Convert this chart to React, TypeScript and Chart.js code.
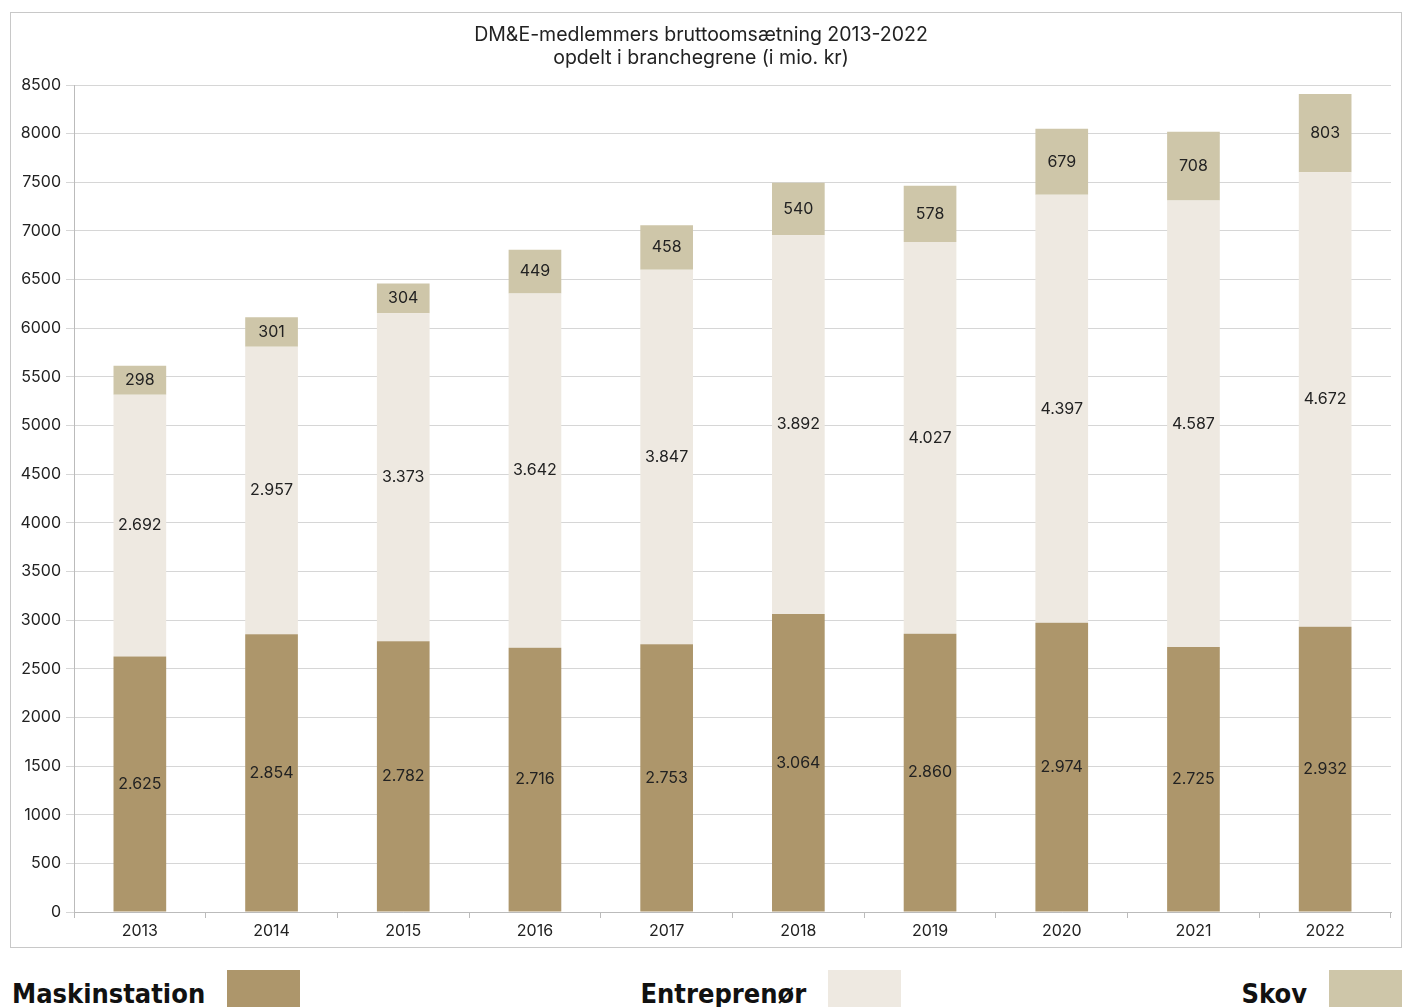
import React, { useEffect, useRef } from "react";
import { Chart, registerables } from "chart.js";

Chart.register(...registerables);

const years = ["2013", "2014", "2015", "2016", "2017", "2018", "2019", "2020", "2021", "2022"];
const maskinstation = [2625, 2854, 2782, 2716, 2753, 3064, 2860, 2974, 2725, 2932];
const entreprenor = [2692, 2957, 3373, 3642, 3847, 3892, 4027, 4397, 4587, 4672];
const skov = [298, 301, 304, 449, 458, 540, 578, 679, 708, 803];
const titleLines = ["DM&E-medlemmers bruttoomsætning 2013-2022", "opdelt i branchegrene (i mio. kr)"];
const seriesNames = ["Maskinstation", "Entreprenør", "Skov"];
const seriesColors = ["#ad966b", "#eee9e1", "#cec6a9"];

const FONT = "Inter, 'Noto Sans', sans-serif";
const fmt = (v: number) => String(v).replace(/\B(?=(\d{3})+(?!\d))/g, ".");

const labelPlugin = {
  id: "segLabels",
  afterDatasetsDraw(chart: any) {
    const ctx = chart.ctx;
    ctx.save();
    ctx.font = `16px ${FONT}`;
    ctx.fillStyle = "#222";
    ctx.textAlign = "center";
    ctx.textBaseline = "middle";
    chart.data.datasets.forEach((ds: any, i: number) => {
      const meta = chart.getDatasetMeta(i);
      meta.data.forEach((el: any, j: number) => {
        const y = (el.y + el.base) / 2;
        ctx.fillText(fmt(ds.data[j]), el.x, y);
      });
    });
    ctx.restore();
  },
};

export default function App() {
  const ref = useRef<HTMLCanvasElement>(null);
  useEffect(() => {
    document.body.style.margin = "0";
    const series = [maskinstation, entreprenor, skov];
    const chart = new Chart(ref.current!, {
      type: "bar",
      data: {
        labels: years,
        datasets: series.map((d, i) => ({
          label: seriesNames[i],
          data: d,
          backgroundColor: seriesColors[i],
          barPercentage: 0.4,
          categoryPercentage: 1,
        })),
      },
      options: {
        animation: false,
        responsive: false,
        layout: { padding: { left: 0, right: 10, top: 0, bottom: 0 } },
        plugins: {
          legend: { display: false },
          tooltip: { enabled: false },
          title: {
            display: true,
            text: titleLines,
            color: "#222",
            font: { family: FONT, size: 19.5, weight: "normal", lineHeight: 1.18 },
            padding: { top: 11, bottom: 15 },
          },
        },
        scales: {
          x: {
            stacked: true,
            grid: { drawOnChartArea: false, offset: true, tickLength: 6, color: "#bbb" },
            border: { color: "#bbb" },
            ticks: { color: "#222", font: { family: FONT, size: 16 }, padding: 4 },
            afterFit: (s: any) => { s.height = 35; },
          },
          y: {
            stacked: true,
            min: 0,
            max: 8500,
            grid: { color: "#d6d6d6", tickLength: 8 },
            border: { color: "#bbb" },
            ticks: {
              stepSize: 500,
              color: "#222",
              font: { family: FONT, size: 16 },
              padding: 5,
              callback: (v: any) => String(v),
            },
            afterFit: (s: any) => { s.width = 63; },
          },
        },
      },
      plugins: [labelPlugin],
    });
    return () => chart.destroy();
  }, []);

  return (
    <div style={{ position: "relative", width: 1402, height: 1007, overflow: "hidden", background: "#fff" }}>
      <div
        style={{
          position: "absolute",
          left: 10,
          top: 12,
          width: 1392,
          height: 936,
          border: "1px solid #c8c8c8",
          boxSizing: "border-box",
        }}
      >
        <canvas ref={ref} width={1390} height={934} style={{ display: "block" }} />
      </div>
      <div
        style={{
          position: "absolute",
          left: 12,
          top: 970,
          width: 1390,
          display: "flex",
          justifyContent: "space-between",
          alignItems: "flex-start",
        }}
      >
        {seriesNames.map((n, i) => (
          <div key={n} style={{ display: "flex", alignItems: "flex-start" }}>
            <span
              style={{
                fontFamily: "'DejaVu Sans Condensed', 'DejaVu Sans', sans-serif",
                fontWeight: "bold",
                fontSize: 27,
                lineHeight: "42px",
                color: "#111",
                paddingTop: 3,
              }}
            >
              {n}
            </span>
            <div style={{ width: 73, height: 40, background: seriesColors[i], marginLeft: 22 }} />
          </div>
        ))}
      </div>
    </div>
  );
}
